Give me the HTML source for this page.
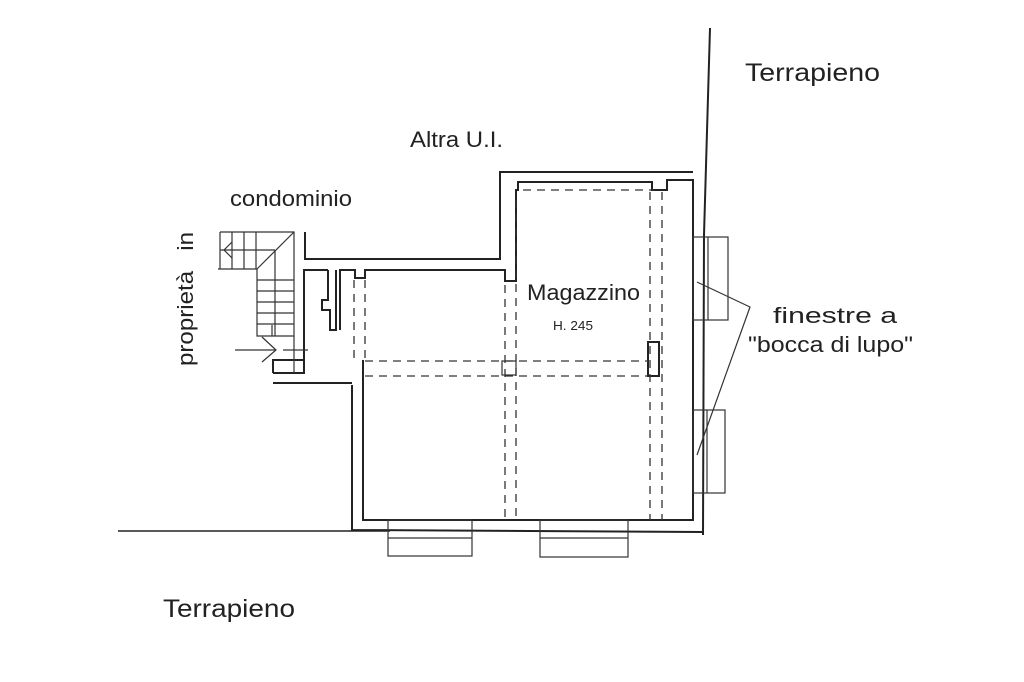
<!DOCTYPE html>
<html><head><meta charset="utf-8"><style>
html,body{margin:0;padding:0;background:#fff;}
svg{display:block;}
text{font-family:"Liberation Sans",Arial,sans-serif;fill:#222;}
</style></head><body>
<svg width="1024" height="682" viewBox="0 0 1024 682" xmlns="http://www.w3.org/2000/svg">
<g stroke="#222" fill="none" stroke-width="2">
<line x1="118" y1="531" x2="390" y2="531" stroke-width="1.5"/>
<polyline points="710,28 704,235 703,535" stroke-width="2"/>
<polyline points="305,232 305,259 500,259 500,172 693,172"/>
<polyline points="352,385 352,530 703,532"/>
<line x1="273" y1="383" x2="352" y2="383"/>
<polyline points="273,373 304,373 304,270 328,270"/>
<polyline points="336,270 336,330 330,330 330,310 322,310 322,300 328,300 328,270"/>
<polyline points="340,330 340,270 355,270 355,278 365,278 365,270 505,270 505,281 516,281 516,190 518,190 518,182 652,182 652,190 667,190 667,180 693,180 693,520 363,520 363,360"/>
<polyline points="273,373 273,360 304,360"/>
<rect x="648" y="342" width="11" height="34" stroke-width="2"/>
</g>
<g stroke="#333" stroke-width="1.3" stroke-dasharray="8,6" fill="none">
<line x1="354" y1="280" x2="354" y2="360"/><line x1="365" y1="280" x2="365" y2="360"/>
<line x1="505" y1="285" x2="505" y2="520"/><line x1="516" y1="200" x2="516" y2="520"/>
<line x1="523" y1="190" x2="655" y2="190"/>
<line x1="650" y1="192" x2="650" y2="520"/><line x1="662" y1="192" x2="662" y2="520"/>
<line x1="365" y1="361" x2="648" y2="361"/><line x1="365" y1="376" x2="648" y2="376"/>
</g>
<g stroke="#333" stroke-width="1.2" fill="none">
<rect x="502" y="361" width="14" height="14"/>
<rect x="693" y="237" width="35" height="83"/><line x1="708" y1="237" x2="708" y2="320"/>
<rect x="693" y="410" width="32" height="83"/><line x1="707" y1="410" x2="707" y2="493"/>
<rect x="388" y="520" width="84" height="36"/><line x1="388" y1="538" x2="472" y2="538"/>
<rect x="540" y="520" width="88" height="37"/><line x1="540" y1="538" x2="628" y2="538"/>
<polyline points="697,282 750,307 697,455"/>
<polyline points="220,232 294,232 294,336 257,336 257,269 218,269"/>
<line x1="220" y1="232" x2="220" y2="269"/>
<line x1="232" y1="232" x2="232" y2="269"/><line x1="244" y1="232" x2="244" y2="269"/>
<line x1="256" y1="232" x2="256" y2="269"/>
<line x1="220" y1="250" x2="275" y2="250"/>
<polyline points="232,242 224,250 232,258"/>
<line x1="294" y1="232" x2="257" y2="269"/>
<line x1="275" y1="250" x2="275" y2="336"/>
<line x1="257" y1="280" x2="294" y2="280"/><line x1="257" y1="291" x2="294" y2="291"/>
<line x1="257" y1="302" x2="294" y2="302"/><line x1="257" y1="313" x2="294" y2="313"/>
<line x1="257" y1="324" x2="294" y2="324"/>
<line x1="272" y1="325" x2="272" y2="336"/>
<line x1="235" y1="350" x2="276" y2="350"/>
<polyline points="262,337 276,350 262,362"/>
<line x1="283" y1="350" x2="308" y2="350"/><line x1="294" y1="336" x2="294" y2="373"/>
</g>
<text x="745" y="81" font-size="25" textLength="135" lengthAdjust="spacingAndGlyphs">Terrapieno</text>
<text x="410" y="147" font-size="22" textLength="93" lengthAdjust="spacingAndGlyphs">Altra U.I.</text>
<text x="230" y="206" font-size="22" textLength="122" lengthAdjust="spacingAndGlyphs">condominio</text>
<text x="527" y="300" font-size="22" textLength="113" lengthAdjust="spacingAndGlyphs">Magazzino</text>
<text x="553" y="330" font-size="13" textLength="40" lengthAdjust="spacingAndGlyphs">H. 245</text>
<text x="773" y="323" font-size="22" textLength="124" lengthAdjust="spacingAndGlyphs">finestre a</text>
<text x="748" y="352" font-size="22" textLength="165" lengthAdjust="spacingAndGlyphs">"bocca di lupo"</text>
<text x="163" y="617" font-size="25" textLength="132" lengthAdjust="spacingAndGlyphs">Terrapieno</text>
<text transform="translate(193,366) rotate(-90)" font-size="22" textLength="134" lengthAdjust="spacingAndGlyphs">proprietà&#160;&#160;&#160;in</text>
</svg>
</body></html>
